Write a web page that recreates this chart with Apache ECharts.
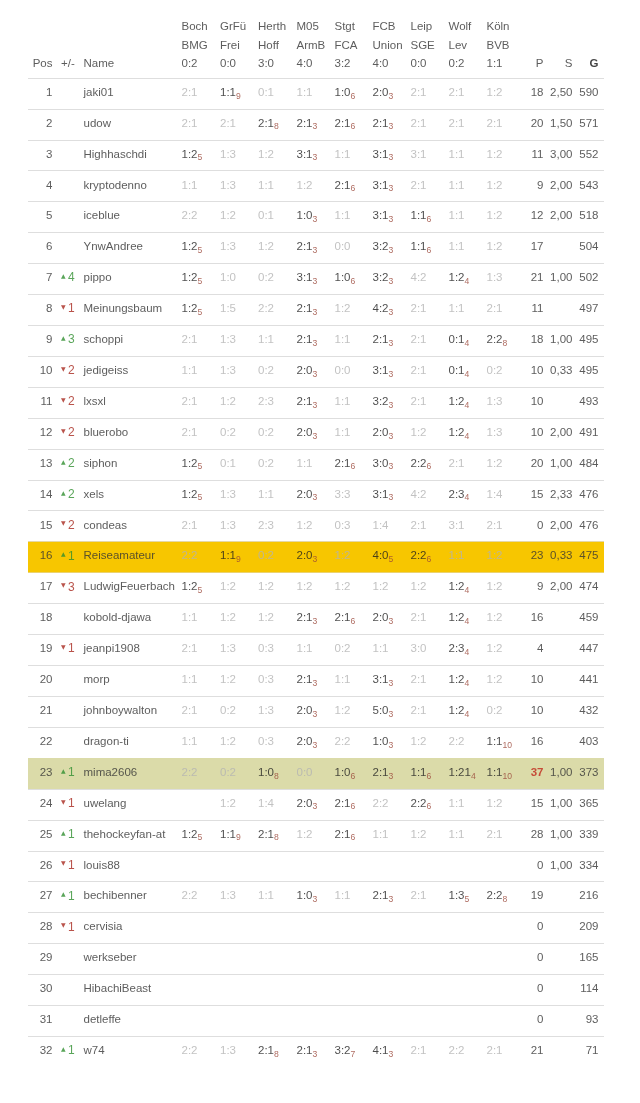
<!DOCTYPE html>
<html><head><meta charset="utf-8">
<script src="https://cdn.jsdelivr.net/npm/echarts@6/dist/echarts.min.js"></script>
<style>html,body{margin:0;padding:0;background:#fff}#c{width:640px;height:1103px}</style>
</head><body><div id="c"></div>
<script>
// ---------- DATA ----------
const matchTeams1 = ['Boch','GrFü','Herth','M05','Stgt','FCB','Leip','Wolf','Köln'];
const matchTeams2 = ['BMG','Frei','Hoff','ArmB','FCA','Union','SGE','Lev','BVB'];
const matchResults = ['0:2','0:0','3:0','4:0','3:2','4:0','0:0','0:2','1:1'];
const headerLeft = ['Pos','+/-','Name'];
const headerRight = ['P','S','G'];
const positions = [1,2,3,4,5,6,7,8,9,10,11,12,13,14,15,16,17,18,19,20,21,22,23,24,25,26,27,28,29,30,31,32];
const changes = ['','','','','','','+4','-1','+3','-2','-2','-2','+2','+2','-2','+1','-3','','-1','','','','+1','-1','+1','-1','+1','-1','','','','+1'];
const names = ['jaki01','udow','Highhaschdi','kryptodenno','iceblue','YnwAndree','pippo','Meinungsbaum','schoppi','jedigeiss','lxsxl','bluerobo','siphon','xels','condeas','Reiseamateur','LudwigFeuerbach','kobold-djawa','jeanpi1908','morp','johnboywalton','dragon-ti','mima2606','uwelang','thehockeyfan-at','louis88','bechibenner','cervisia','werkseber','HibachiBeast','detleffe','w74'];
// tip "a:b/n" = tip with n points earned
const tips = [
 ['2:1','1:1/9','0:1','1:1','1:0/6','2:0/3','2:1','2:1','1:2'],
 ['2:1','2:1','2:1/8','2:1/3','2:1/6','2:1/3','2:1','2:1','2:1'],
 ['1:2/5','1:3','1:2','3:1/3','1:1','3:1/3','3:1','1:1','1:2'],
 ['1:1','1:3','1:1','1:2','2:1/6','3:1/3','2:1','1:1','1:2'],
 ['2:2','1:2','0:1','1:0/3','1:1','3:1/3','1:1/6','1:1','1:2'],
 ['1:2/5','1:3','1:2','2:1/3','0:0','3:2/3','1:1/6','1:1','1:2'],
 ['1:2/5','1:0','0:2','3:1/3','1:0/6','3:2/3','4:2','1:2/4','1:3'],
 ['1:2/5','1:5','2:2','2:1/3','1:2','4:2/3','2:1','1:1','2:1'],
 ['2:1','1:3','1:1','2:1/3','1:1','2:1/3','2:1','0:1/4','2:2/8'],
 ['1:1','1:3','0:2','2:0/3','0:0','3:1/3','2:1','0:1/4','0:2'],
 ['2:1','1:2','2:3','2:1/3','1:1','3:2/3','2:1','1:2/4','1:3'],
 ['2:1','0:2','0:2','2:0/3','1:1','2:0/3','1:2','1:2/4','1:3'],
 ['1:2/5','0:1','0:2','1:1','2:1/6','3:0/3','2:2/6','2:1','1:2'],
 ['1:2/5','1:3','1:1','2:0/3','3:3','3:1/3','4:2','2:3/4','1:4'],
 ['2:1','1:3','2:3','1:2','0:3','1:4','2:1','3:1','2:1'],
 ['2:2','1:1/9','0:2','2:0/3','1:2','4:0/5','2:2/6','1:1','1:2'],
 ['1:2/5','1:2','1:2','1:2','1:2','1:2','1:2','1:2/4','1:2'],
 ['1:1','1:2','1:2','2:1/3','2:1/6','2:0/3','2:1','1:2/4','1:2'],
 ['2:1','1:3','0:3','1:1','0:2','1:1','3:0','2:3/4','1:2'],
 ['1:1','1:2','0:3','2:1/3','1:1','3:1/3','2:1','1:2/4','1:2'],
 ['2:1','0:2','1:3','2:0/3','1:2','5:0/3','2:1','1:2/4','0:2'],
 ['1:1','1:2','0:3','2:0/3','2:2','1:0/3','1:2','2:2','1:1/10'],
 ['2:2','0:2','1:0/8','0:0','1:0/6','2:1/3','1:1/6','1:21/4','1:1/10'],
 ['','1:2','1:4','2:0/3','2:1/6','2:2','2:2/6','1:1','1:2'],
 ['1:2/5','1:1/9','2:1/8','1:2','2:1/6','1:1','1:2','1:1','2:1'],
 ['','','','','','','','',''],
 ['2:2','1:3','1:1','1:0/3','1:1','2:1/3','2:1','1:3/5','2:2/8'],
 ['','','','','','','','',''],
 ['','','','','','','','',''],
 ['','','','','','','','',''],
 ['','','','','','','','',''],
 ['2:2','1:3','2:1/8','2:1/3','3:2/7','4:1/3','2:1','2:2','2:1']
];
const pointsP = [18,20,11,9,12,17,21,11,18,10,10,10,20,15,0,23,9,16,4,10,10,16,37,15,28,0,19,0,0,0,0,21];
const ratioS = ['2,50','1,50','3,00','2,00','2,00','','1,00','','1,00','0,33','','2,00','1,00','2,33','2,00','0,33','2,00','','','','','','1,00','1,00','1,00','1,00','','','','','',''];
const totalG = [590,571,552,543,518,504,502,497,495,495,493,491,484,476,476,475,474,459,447,441,432,403,373,365,339,334,216,209,165,114,93,71];
const highlightPos = [16, 23];

// ---------- LAYOUT / STYLE ----------
const FONT = '"Liberation Sans", Arial, sans-serif';
const FS = 11.5;
const TXT = '#333';
const COLX = {pos:52.5, chg:61, name:83.5, tip:[181.5,220,258,296.5,334.5,372.5,410.5,448.5,486.5], p:543.5, s:572.5, g:598.5};
const HL_COLORS = ['#f7c600', '#dbdba9'];
const ROWS = positions.length;
const maxP = Math.max(...pointsP);

const chart = echarts.init(document.getElementById('c'), null, {renderer:'canvas'});

function textSeries(gi, data, align, formatter, rich, extra) {
  return Object.assign({
    type:'scatter', xAxisIndex:gi, yAxisIndex:gi, data, symbolSize:1, silent:true, z:5,
    itemStyle:{color:'rgba(0,0,0,0)'},
    label:{show:true, position:'inside', align, verticalAlign:'middle', offset:[0, gi===0?-0.8:0],
      fontFamily:FONT, fontSize:FS, color:TXT, formatter, rich: rich||{}}
  }, extra||{});
}

const series = [];
// highlight rows
series.push({
  type:'custom', xAxisIndex:0, yAxisIndex:0, z:1, silent:true,
  data: highlightPos.map((p,i)=>[0, positions.indexOf(p), i]),
  renderItem(params, api){
    const c = api.coord([COLX.pos, api.value(1)]);
    const h = api.size([0,1])[1];
    const cs = params.coordSys;
    return {type:'rect', shape:{x:cs.x, y:c[1]-h/2, width:cs.width, height:h},
      style:{fill:HL_COLORS[api.value(2)]}};
  }
});
// pos
series.push(textSeries(0, positions.map((p,i)=>({value:[COLX.pos,i], t:String(p)})), 'right', p=>p.data.t));
// change
series.push(textSeries(0, changes.map((c,i)=>({value:[COLX.chg,i], t:c})), 'left', p=>{
  const c = p.data.t; if(!c) return '';
  return c[0]==='+' ? '{u|▲}{gn|'+c.slice(1)+'}' : '{d|▼}{rn|'+c.slice(1)+'}';
}, {
  u:{color:'#2f8f2f', fontSize:6, fontFamily:'DejaVu Sans', lineHeight:16, padding:[0,2.5,3,0]},
  d:{color:'#a8281e', fontSize:6, fontFamily:'DejaVu Sans', lineHeight:16, padding:[0,2.5,3,0]},
  gn:{color:'#2f8f2f', fontSize:FS+0.5, fontFamily:FONT, lineHeight:16},
  rn:{color:'#a8281e', fontSize:FS+0.5, fontFamily:FONT, lineHeight:16}
}));
// names
series.push(textSeries(0, names.map((n,i)=>({value:[COLX.name,i], t:n})), 'left', p=>p.data.t));
// tips
const tipData = [];
tips.forEach((row,i)=>row.forEach((t,j)=>{ if(t) tipData.push({value:[COLX.tip[j], i], t}); }));
series.push(textSeries(0, tipData, 'left', p=>{
  const parts = p.data.t.split('/');
  if(parts.length===1) return '{g|'+parts[0]+'}';
  return '{b|'+parts[0]+'}{s|'+parts[1]+'}';
}, {
  g:{color:'#b3b3b3', fontSize:FS, fontFamily:FONT, lineHeight:16},
  b:{color:'#1e1e1e', fontSize:FS, fontFamily:FONT, lineHeight:16},
  s:{color:'#9a4638', fontSize:8.6, fontFamily:FONT, lineHeight:10, verticalAlign:'bottom'}
}));
// P
series.push(textSeries(0, pointsP.map((v,i)=>({value:[COLX.p,i], t:v})), 'right', p=>
  p.data.t===maxP ? '{hi|'+p.data.t+'}' : String(p.data.t),
  {hi:{color:'#c0281c', fontWeight:'bold', fontSize:FS, fontFamily:FONT}}));
// S
series.push(textSeries(0, ratioS.map((v,i)=>({value:[COLX.s,i], t:v})), 'right', p=>p.data.t));
// G
series.push(textSeries(0, totalG.map((v,i)=>({value:[COLX.g,i], t:v})), 'right', p=>String(p.data.t)));

// header
const hdr = [];
matchTeams1.forEach((t,j)=>hdr.push({value:[COLX.tip[j],0], t}));
matchTeams2.forEach((t,j)=>hdr.push({value:[COLX.tip[j],1], t}));
matchResults.forEach((t,j)=>hdr.push({value:[COLX.tip[j],2], t}));
series.push(textSeries(1, hdr, 'left', p=>p.data.t));
series.push(textSeries(1, [{value:[COLX.pos,2], t:headerLeft[0]}], 'right', p=>p.data.t));
series.push(textSeries(1, [{value:[COLX.chg,2], t:headerLeft[1]},{value:[COLX.name,2], t:headerLeft[2]}], 'left', p=>p.data.t));
series.push(textSeries(1, [{value:[COLX.p,2], t:headerRight[0]},{value:[COLX.s,2], t:headerRight[1]},{value:[COLX.g,2], t:headerRight[2]}], 'right',
  p=>p.data.t==='G' ? '{bo|G}' : p.data.t, {bo:{fontWeight:'bold', color:'#111', fontSize:FS, fontFamily:FONT}}));

const lineColors = positions.map(()=> '#dedede').concat(['rgba(0,0,0,0)']);

chart.setOption({
  animation:false,
  backgroundColor:'#fff',
  grid:[
    {left:28, right:36, top:78, height:ROWS*30.91},
    {left:28, right:36, top:18, height:55.5}
  ],
  xAxis:[
    {type:'value', gridIndex:0, min:28, max:604, show:false},
    {type:'value', gridIndex:1, min:28, max:604, show:false}
  ],
  yAxis:[
    {type:'category', gridIndex:0, inverse:true, data:positions.map(String), boundaryGap:true,
      axisLine:{show:false}, axisTick:{show:false}, axisLabel:{show:false},
      splitLine:{show:true, lineStyle:{color:lineColors, width:1}}},
    {type:'category', gridIndex:1, inverse:true, data:['a','b','c'],
      axisLine:{show:false}, axisTick:{show:false}, axisLabel:{show:false}, splitLine:{show:false}}
  ],
  series
});
</script></body></html>
